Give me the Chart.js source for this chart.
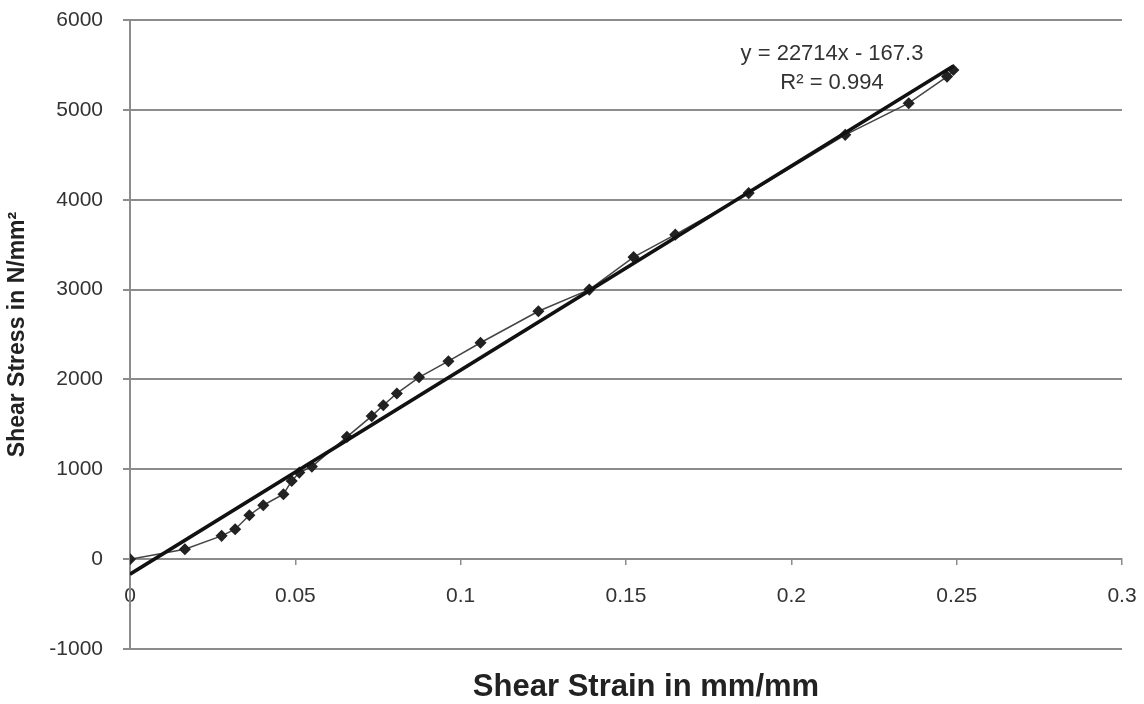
<!DOCTYPE html>
<html>
<head>
<meta charset="utf-8">
<script src="https://cdn.jsdelivr.net/npm/chart.js@4/dist/chart.umd.min.js"></script>
<style>
  html, body { margin: 0; padding: 0; background: #fff; }
  #wrap { position: relative; width: 1144px; height: 704px; }
  .note { position: absolute; font-family: "Liberation Sans", Arial, sans-serif; color: #333; white-space: nowrap; transform: translateX(-50%); }
  #eq1 { left: 832px; top: 40px; font-size: 22px; }
  #eq2 { left: 832px; top: 69px; font-size: 22px; }
  #xTitle { left: 646px; top: 668px; font-size: 31px; font-weight: bold; color: #222; }
</style>
</head>
<body>
<div id="wrap">
  <canvas id="chart" width="1144" height="704"></canvas>
  <div class="note" id="eq1">y = 22714x - 167.3</div>
  <div class="note" id="eq2">R² = 0.994</div>
  <div class="note" id="xTitle">Shear Strain in mm/mm</div>
</div>
<script>
// measured points (shear strain, shear stress)
const strain = [0, 0.0166, 0.0277, 0.0318, 0.0361, 0.0403, 0.0464, 0.0489, 0.0512, 0.055,
                0.0656, 0.0731, 0.0766, 0.0807, 0.0874, 0.0963, 0.106, 0.1235, 0.1389, 0.1523,
                0.1649, 0.1871, 0.2163, 0.2355, 0.2471, 0.249];
const stress = [0, 110, 259, 333, 489, 600, 722, 870, 963, 1030,
                1361, 1592, 1713, 1844, 2024, 2203, 2408, 2759, 3000, 3361,
                3611, 4074, 4722, 5074, 5370, 5444];

// linear trendline end points
const trendX = [0, 0.249];
const trendY = [-167.3, 5488.5];

const xTickLabels = ["0", "0.05", "0.1", "0.15", "0.2", "0.25", "0.3"];
const yTickLabels = ["-1000", "0", "1000", "2000", "3000", "4000", "5000", "6000"];

const gridGray = "#8c8c8c";
const tickFont = { family: "Liberation Sans", size: 21 };

new Chart(document.getElementById("chart").getContext("2d"), {
    type: "scatter",
    data: {
        datasets: [
            {
                label: "Trend",
                data: trendX.map((x, i) => ({ x: x, y: trendY[i] })),
                showLine: true,
                borderColor: "#111",
                borderWidth: 3.5,
                pointRadius: 0,
                order: 0
            },
            {
                label: "Shear stress",
                data: strain.map((x, i) => ({ x: x, y: stress[i] })),
                showLine: true,
                borderColor: "#444",
                borderWidth: 1.5,
                pointStyle: "rectRot",
                pointRadius: 5,
                pointBackgroundColor: "#222",
                pointBorderColor: "#222",
                order: 1
            }
        ]
    },
    options: {
        responsive: false,
        animation: false,
        layout: { padding: { left: 0, top: 20, right: 22, bottom: 55 } },
        plugins: { legend: { display: false }, tooltip: { enabled: false } },
        scales: {
            x: {
                type: "linear",
                position: { y: 0 },
                min: 0,
                max: 0.3,
                ticks: {
                    stepSize: 0.05,
                    padding: 19,
                    color: "#333",
                    font: tickFont,
                    callback: (v, i) => xTickLabels[i]
                },
                grid: { drawOnChartArea: false, tickLength: 5, color: gridGray, lineWidth: 1.5 },
                border: { color: gridGray, width: 2 },
                afterFit: (scale) => { scale.paddingLeft = 0; scale.paddingRight = 0; }
            },
            y: {
                type: "linear",
                position: "left",
                min: -1000,
                max: 6000,
                ticks: {
                    stepSize: 1000,
                    padding: 20,
                    color: "#333",
                    font: tickFont,
                    callback: (v, i) => yTickLabels[i]
                },
                grid: { color: gridGray, lineWidth: 2, tickLength: 7 },
                border: { color: gridGray, width: 2 },
                title: {
                    display: true,
                    text: "Shear Stress in N/mm²",
                    color: "#222",
                    font: { family: "Liberation Sans", size: 23, weight: "bold" }
                },
                afterFit: (scale) => {
                    scale.width = 130;
                    scale.paddingTop = 0;
                    scale.paddingBottom = 0;
                }
            }
        }
    }
});
</script>
</body>
</html>
